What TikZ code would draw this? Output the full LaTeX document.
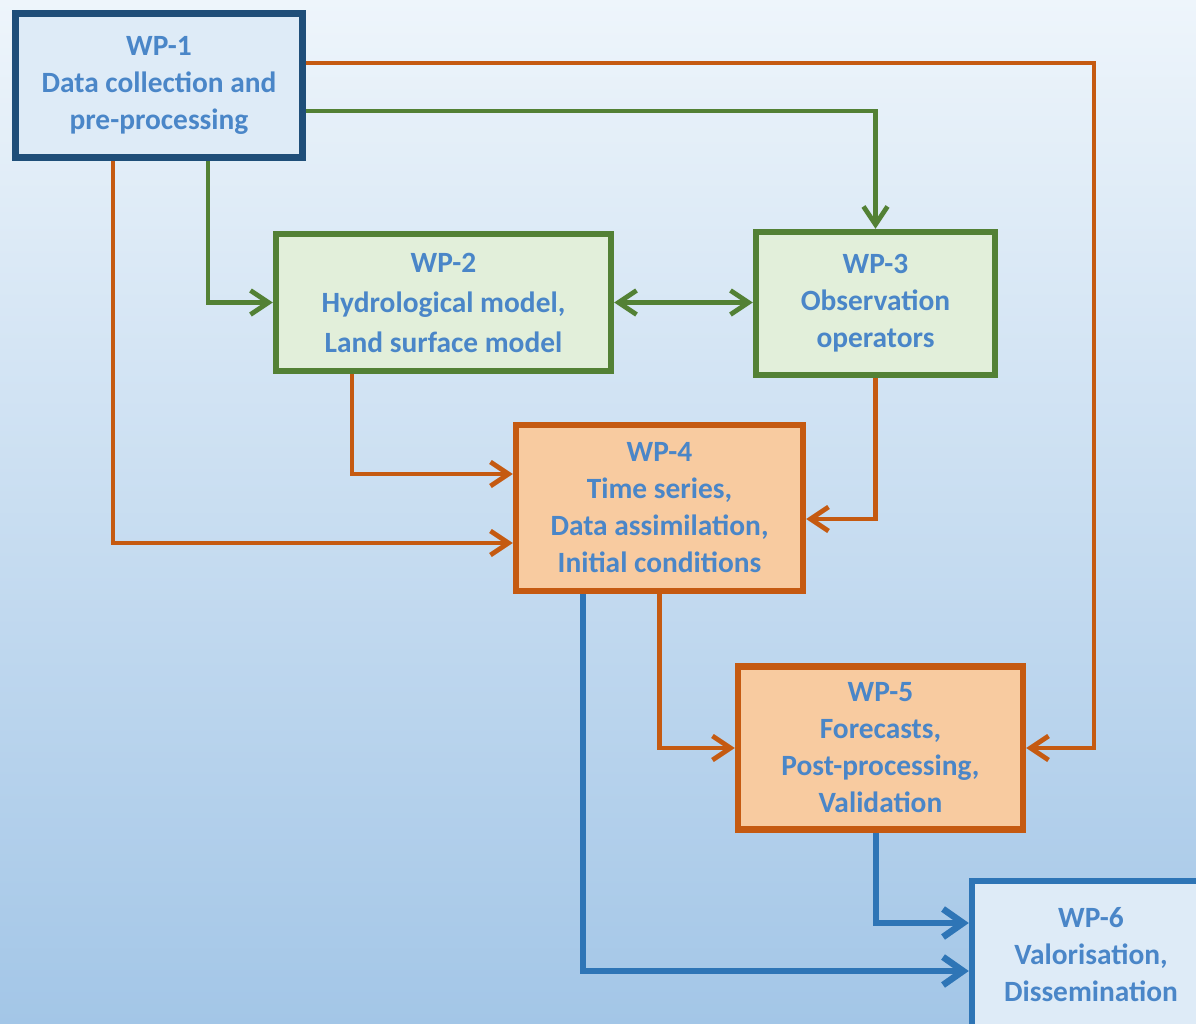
\documentclass[tikz,border=0pt]{standalone}
\usepackage{fontspec}
\setmainfont{Carlito}
\usetikzlibrary{arrows.meta,calc}
\definecolor{bgtop}{HTML}{EEF5FB}
\definecolor{bgbot}{HTML}{A3C6E7}
\definecolor{dblue}{HTML}{1F4E79}
\definecolor{lblue}{HTML}{2E75B6}
\definecolor{dgreen}{HTML}{538135}
\definecolor{dorange}{HTML}{C55A11}
\definecolor{fblue}{HTML}{DEEBF7}
\definecolor{fgreen}{HTML}{E2EFDA}
\definecolor{forange}{HTML}{F8CBA0}
\definecolor{txt}{HTML}{4A86C8}
\tikzset{
  wpbox/.style={rectangle, align=center, text=txt, line width=3.2pt,
    font=\fontsize{14.7}{18.5}\selectfont\bfseries, inner sep=0pt},
  garrow/.style={draw=dgreen, line width=2.4pt,
    -{Straight Barb[length=9pt,width=12pt]}},
  oarrow/.style={draw=dorange, line width=2.4pt,
    -{Straight Barb[length=9pt,width=12pt]}},
  barrow/.style={draw=lblue, line width=3.3pt,
    -{Straight Barb[length=10pt,width=14pt]}},
}
\begin{document}
\begin{tikzpicture}[x=0.5pt,y=-0.5pt]
\useasboundingbox (0,0) rectangle (1196,1024);
\clip (0,0) rectangle (1196,1024);
\shade[top color=bgtop, bottom color=bgbot] (0,0) rectangle (1196,1024);

\node[wpbox, draw=dblue, fill=fblue, line width=3.5pt, minimum width=143.5pt, minimum height=72pt]
  (wp1) at (159,85.5) {WP-1\\Data collection and\\pre-processing};
\node[wpbox, draw=dgreen, fill=fgreen, minimum width=167.5pt, minimum height=68.5pt,
  font=\fontsize{14.7}{20}\selectfont\bfseries]
  (wp2) at (443.5,302.5) {WP-2\\Hydrological model,\\Land surface model};
\node[wpbox, draw=dgreen, fill=fgreen, minimum width=119.5pt, minimum height=71.5pt]
  (wp3) at (875.5,303.5) {WP-3\\Observation\\operators};
\node[wpbox, draw=dorange, fill=forange, minimum width=143.5pt, minimum height=83pt]
  (wp4) at (659.5,508) {WP-4\\Time series,\\Data assimilation,\\Initial conditions};
\node[wpbox, draw=dorange, fill=forange, minimum width=142.5pt, minimum height=81.5pt]
  (wp5) at (880.5,748) {WP-5\\Forecasts,\\Post-processing,\\Validation};
\node[wpbox, draw=lblue, fill=fblue, minimum width=119pt, minimum height=74pt]
  (wp6) at (1091,955) {WP-6\\Valorisation,\\Dissemination};

\coordinate (h63) at (0,63);
\coordinate (h111) at (0,111);
\coordinate (h474) at (0,474);
\coordinate (h519) at (0,519);
\coordinate (h543) at (0,543);
\coordinate (h923) at (0,923);
\coordinate (h971) at (0,971);
\coordinate (v113) at (113,0);
\coordinate (v208) at (208,0);
\coordinate (v352) at (352,0);
\coordinate (v583) at (583,0);
\coordinate (v876) at (876,0);
\coordinate (v1094) at (1094,0);

\draw[oarrow] (wp1.east |- h63) -| (v1094 |- wp5.east) -- (wp5.east);
\draw[garrow] (wp1.east |- h111) -| (wp3.north);
\draw[oarrow] (v113 |- wp1.south) |- (wp4.west |- h543);
\draw[garrow] (v208 |- wp1.south) |- (wp2.west);
\draw[garrow, {Straight Barb[length=9pt,width=12pt]}-{Straight Barb[length=9pt,width=12pt]}]
  (wp2.east) -- (wp2.east -| wp3.west);
\draw[oarrow] (v352 |- wp2.south) |- (wp4.west |- h474);
\draw[oarrow] (wp3.south) |- (wp4.east |- h519);
\draw[oarrow] (wp4.south) |- (wp5.west);
\draw[barrow] (v583 |- wp4.south) |- (wp6.west |- h971);
\draw[barrow] (v876 |- wp5.south) |- (wp6.west |- h923);
\end{tikzpicture}
\end{document}
